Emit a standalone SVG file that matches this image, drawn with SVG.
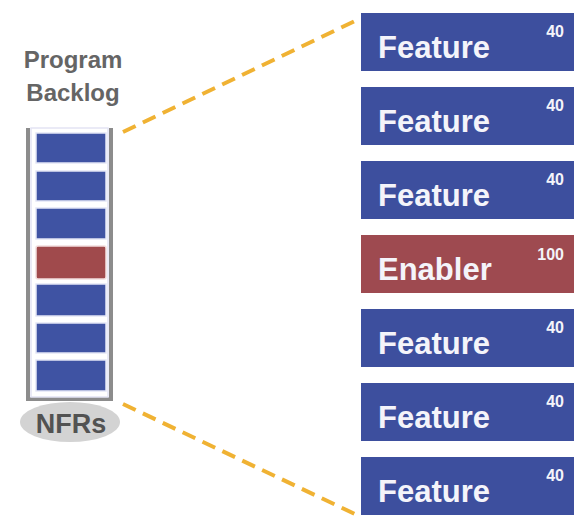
<svg xmlns="http://www.w3.org/2000/svg" width="584" height="528" viewBox="0 0 584 528">
<style>
.feat{fill:#3d4f9e}
.enab{fill:#9e4a50}
.lbl{font-family:"Liberation Sans",Arial,sans-serif;font-weight:bold;font-size:31px;fill:#f4f4fa}
.num{font-family:"Liberation Sans",Arial,sans-serif;font-weight:bold;font-size:16px;fill:#f4f4fa;text-anchor:end}
.sb{fill:#3f53a3;stroke:#e4e6f6;stroke-width:1.5}
.sr{fill:#a04a4c;stroke:#f2dede;stroke-width:1.5}
.title{font-family:"Liberation Sans",Arial,sans-serif;font-weight:bold;font-size:24px;fill:#656565;text-anchor:middle}
.dash{stroke:#f0b233;stroke-width:4;stroke-dasharray:14 8;fill:none}
</style>
<rect width="584" height="528" fill="#ffffff"/>
<g id="connectors">
<line class="dash" x1="123" y1="132" x2="357" y2="20"/>
<line class="dash" x1="123" y1="404" x2="357" y2="515"/>
</g>
<g id="program-backlog">
<text class="title" x="73" y="68">Program</text>
<text class="title" x="73" y="101">Backlog</text>
<path d="M28 128 V399 H111 V128" fill="none" stroke="#8c8c8c" stroke-width="4"/>
<rect x="31" y="128" width="77" height="269" fill="none" stroke="#e3e4f4" stroke-width="1.5"/>
<rect class="sb" x="36" y="133" width="70" height="30"/>
<rect class="sb" x="36" y="171" width="70" height="30"/>
<rect class="sb" x="36" y="208" width="70" height="31"/>
<rect class="sr" x="36" y="246" width="70" height="33" rx="2"/>
<rect class="sb" x="36" y="284" width="70" height="32"/>
<rect class="sb" x="36" y="323" width="70" height="30"/>
<rect class="sb" x="36" y="360" width="70" height="31"/>
</g>
<g id="nfrs">
<ellipse cx="70" cy="422" rx="50" ry="20" fill="#d3d3d3"/>
<text x="71" y="433" font-family="Liberation Sans,Arial,sans-serif" font-weight="bold" font-size="27" fill="#525252" text-anchor="middle">NFRs</text>
</g>
<g id="feature1"><rect class="feat" x="361" y="13" width="213" height="58"/><text class="lbl" x="378" y="58">Feature</text><text class="num" x="564" y="37">40</text></g>
<g id="feature2"><rect class="feat" x="361" y="87" width="213" height="58"/><text class="lbl" x="378" y="132">Feature</text><text class="num" x="564" y="111">40</text></g>
<g id="feature3"><rect class="feat" x="361" y="161" width="213" height="58"/><text class="lbl" x="378" y="206">Feature</text><text class="num" x="564" y="185">40</text></g>
<g id="enabler"><rect class="enab" x="361" y="235" width="213" height="58"/><text class="lbl" x="378" y="280">Enabler</text><text class="num" x="564" y="260">100</text></g>
<g id="feature5"><rect class="feat" x="361" y="309" width="213" height="58"/><text class="lbl" x="378" y="354">Feature</text><text class="num" x="564" y="333">40</text></g>
<g id="feature6"><rect class="feat" x="361" y="383" width="213" height="58"/><text class="lbl" x="378" y="428">Feature</text><text class="num" x="564" y="407">40</text></g>
<g id="feature7"><rect class="feat" x="361" y="457" width="213" height="58"/><text class="lbl" x="378" y="502">Feature</text><text class="num" x="564" y="481">40</text></g>
</svg>
